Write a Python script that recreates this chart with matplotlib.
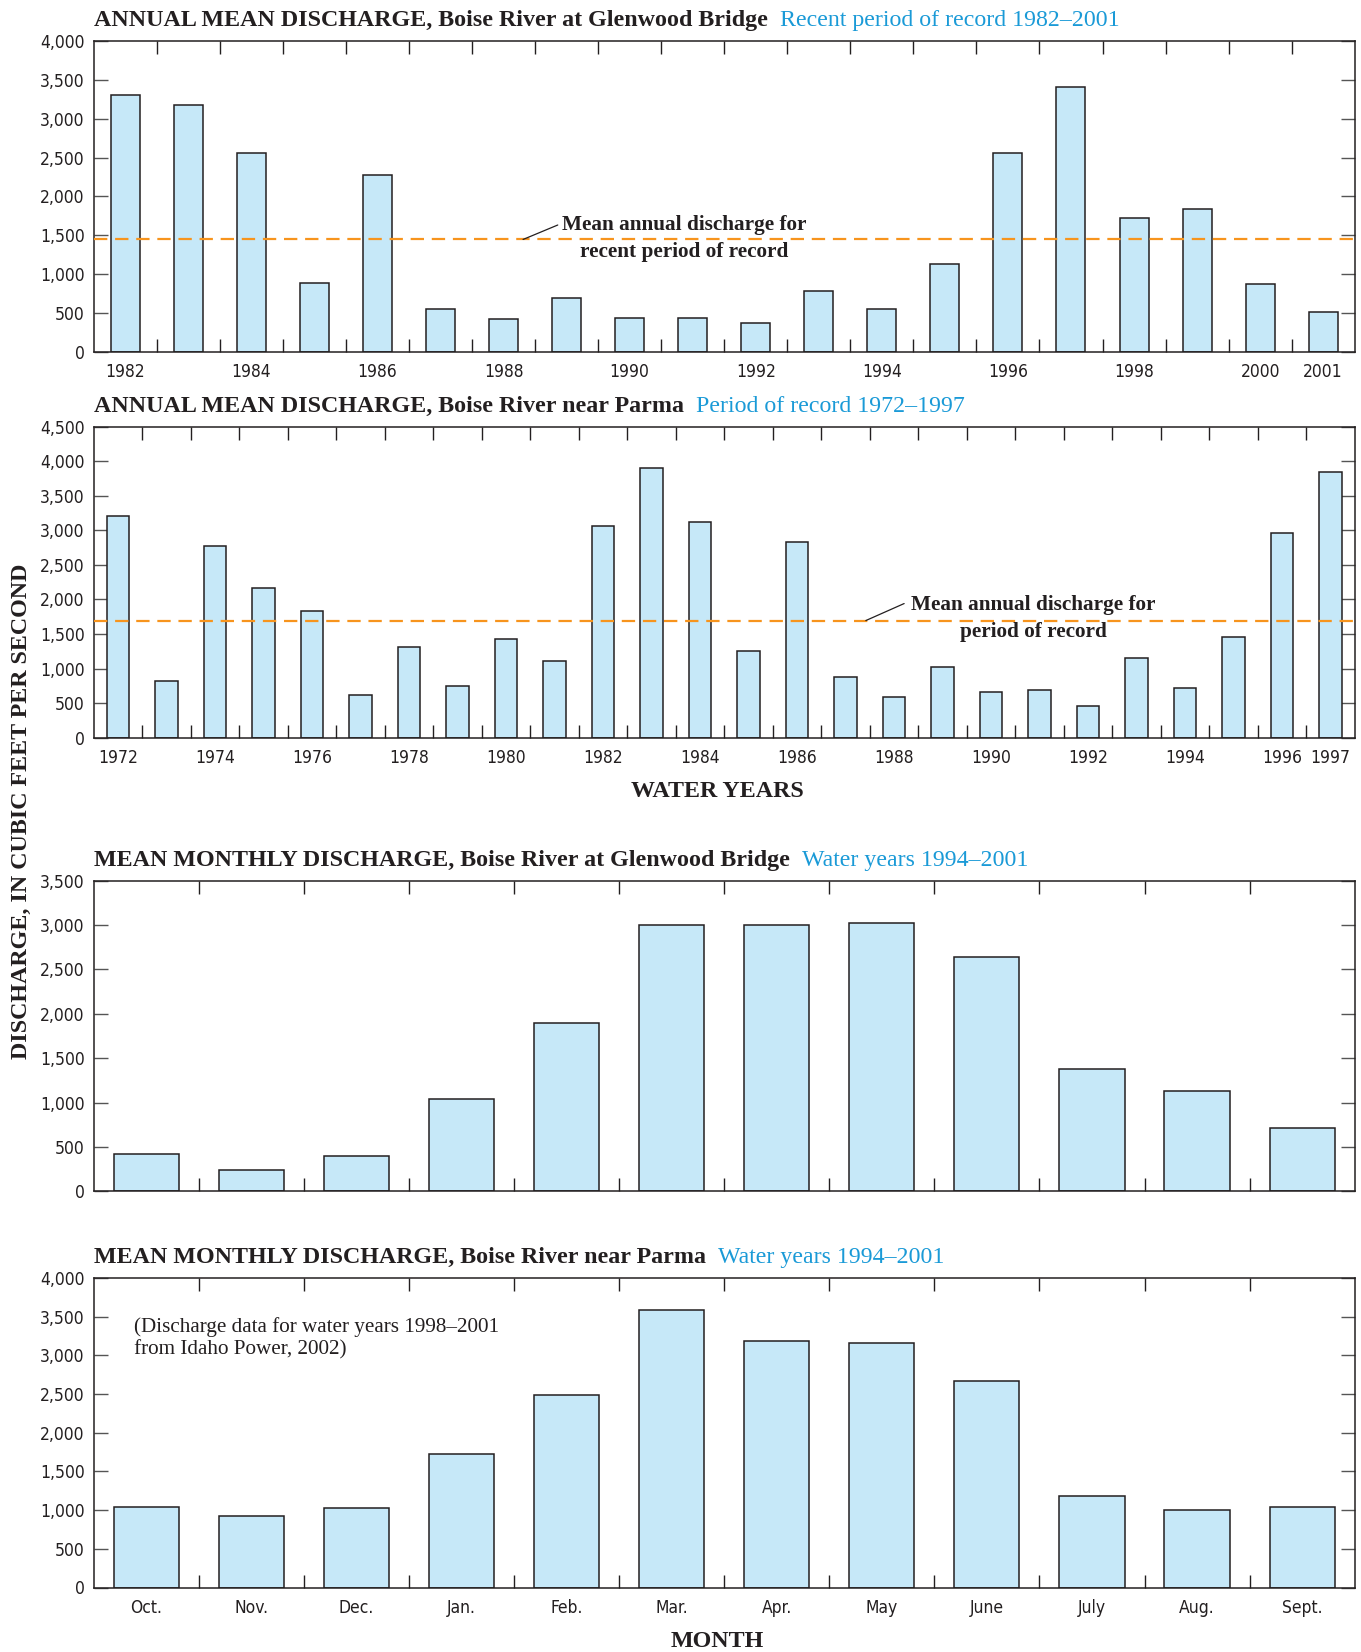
import matplotlib
matplotlib.use("Agg")
import matplotlib.pyplot as plt
from matplotlib import font_manager as fm
from matplotlib.ticker import FuncFormatter, MultipleLocator, FixedLocator
import numpy as np

# ---------------- data ----------------
glen_years = list(range(1982, 2002))
glen_annual = [3300, 3180, 2560, 883, 2275, 545, 424, 695, 428, 428,
               364, 780, 553, 1130, 2560, 3410, 1720, 1840, 870, 506]
glen_mean = 1445
glen_year_labels = [1982, 1984, 1986, 1988, 1990, 1992, 1994, 1996, 1998, 2000, 2001]

parma_years = list(range(1972, 1998))
parma_annual = [3210, 820, 2770, 2165, 1830, 625, 1315, 745, 1430, 1105,
                3070, 3900, 3120, 1255, 2825, 880, 595, 1020, 665, 685,
                465, 1150, 725, 1460, 2960, 3840]
parma_mean = 1695
parma_year_labels = [1972, 1974, 1976, 1978, 1980, 1982, 1984, 1986, 1988,
                     1990, 1992, 1994, 1996, 1997]

months = ["Oct.", "Nov.", "Dec.", "Jan.", "Feb.", "Mar.", "Apr.", "May",
          "June", "July", "Aug.", "Sept."]
glen_monthly = [420, 240, 400, 1035, 1895, 3000, 3000, 3025, 2645, 1378, 1132, 713]
parma_monthly = [1040, 925, 1030, 1730, 2485, 3580, 3190, 3160, 2670, 1180, 1000, 1035]

# ---------------- style ----------------
W, H = 1361, 1652
INK = "#231f20"
BLUE = "#1a9ad7"
FILL = "#c6e8f8"
ORANGE = "#f7941d"
SERIF = ["Liberation Serif", "DejaVu Serif"]

names = {f.name for f in fm.fontManager.ttflist}
if "Liberation Sans Narrow" in names:
    TICKFONT = dict(family="Liberation Sans Narrow")
else:
    TICKFONT = dict(family="DejaVu Sans", stretch="condensed")
TICKSIZE = 12.5

fig = plt.figure(figsize=(W / 100, H / 100), dpi=100)

left = 93.7 / W
width = (1354.7 - 93.7) / W
panels_px = [(41.0, 351.7), (426.7, 737.7), (880.6, 1191.4), (1277.8, 1587.5)]
axes = []
for top, bot in panels_px:
    axes.append(fig.add_axes([left, 1 - bot / H, width, (bot - top) / H]))

fmt = FuncFormatter(lambda v, p: f"{int(v):,}")


def style_axes(ax, ymax, n, centers_labels, label_texts):
    ax.set_xlim(-0.5, n - 0.5)
    ax.set_ylim(0, ymax)
    ax.yaxis.set_major_locator(MultipleLocator(500))
    ax.yaxis.set_major_formatter(fmt)
    ax.xaxis.set_major_locator(FixedLocator(np.arange(0.5, n - 0.5, 1.0)))
    ax.xaxis.set_major_formatter(FuncFormatter(lambda v, p: ""))
    ax.xaxis.set_minor_locator(FixedLocator(centers_labels))
    ax.set_xticklabels(label_texts, minor=True)
    ax.tick_params(axis="x", which="major", direction="in", top=True, bottom=True,
                   length=9.5, width=1.0, color=INK)
    ax.tick_params(axis="x", which="minor", length=0, pad=8, labelsize=TICKSIZE,
                   labelcolor=INK)
    ax.tick_params(axis="y", which="major", direction="in", left=True, right=True,
                   length=10, width=1.0, color="#555555", pad=6.5,
                   labelsize=TICKSIZE, labelcolor=INK)
    for lab in ax.get_xticklabels(minor=True) + ax.get_yticklabels():
        lab.set_fontfamily(TICKFONT["family"])
        if "stretch" in TICKFONT:
            lab.set_fontstretch(TICKFONT["stretch"])
    for s in ax.spines.values():
        s.set_linewidth(1.1)
        s.set_color(INK)


def bars(ax, values, w):
    x = np.arange(len(values))
    ax.bar(x, values, width=w, color=FILL, edgecolor=INK, linewidth=1.1, zorder=2)


# Panel 1
ax = axes[0]
bars(ax, glen_annual, 0.46)
style_axes(ax, 4000, len(glen_years),
           [glen_years.index(y) for y in glen_year_labels],
           [str(y) for y in glen_year_labels])
ax.axhline(glen_mean, color=ORANGE, lw=1.6, dashes=(6, 3.5), zorder=3)
ax.annotate("", xy=(6.31, glen_mean), xytext=(6.86, 1631),
            arrowprops=dict(arrowstyle="-", color=INK, lw=0.9, shrinkA=0, shrinkB=0))
ax.text(8.87, 1462, "Mean annual discharge for\nrecent period of record",
        ha="center", va="center", multialignment="center", linespacing=1.45,
        fontfamily=SERIF, fontweight="bold", fontsize=15.3, color=INK, zorder=4)

# Panel 2
ax = axes[1]
bars(ax, parma_annual, 0.46)
style_axes(ax, 4500, len(parma_years),
           [parma_years.index(y) for y in parma_year_labels],
           [str(y) for y in parma_year_labels])
ax.axhline(parma_mean, color=ORANGE, lw=1.6, dashes=(6, 3.5), zorder=3)
ax.annotate("", xy=(15.42, parma_mean), xytext=(16.21, 1941),
            arrowprops=dict(arrowstyle="-", color=INK, lw=0.9, shrinkA=0, shrinkB=0))
ax.text(18.88, 1728, "Mean annual discharge for\nperiod of record",
        ha="center", va="center", multialignment="center", linespacing=1.45,
        fontfamily=SERIF, fontweight="bold", fontsize=15.3, color=INK, zorder=4)

# Panel 3
ax = axes[2]
bars(ax, glen_monthly, 0.62)
style_axes(ax, 3500, len(months), list(range(len(months))), [""] * len(months))

# Panel 4
ax = axes[3]
bars(ax, parma_monthly, 0.62)
style_axes(ax, 4000, len(months), list(range(len(months))), months)
ax.text(0.0318, 0.874, "(Discharge data for water years 1998\u20132001\nfrom Idaho Power, 2002)",
        transform=ax.transAxes, ha="left", va="top", linespacing=1.25,
        fontfamily=SERIF, fontsize=15.2, color=INK)

# Titles
titles = [
    ("ANNUAL MEAN DISCHARGE, Boise River at Glenwood Bridge", "Recent period of record 1982\u20132001"),
    ("ANNUAL MEAN DISCHARGE, Boise River near Parma", "Period of record 1972\u20131997"),
    ("MEAN MONTHLY DISCHARGE, Boise River at Glenwood Bridge", "Water years 1994\u20132001"),
    ("MEAN MONTHLY DISCHARGE, Boise River near Parma", "Water years 1994\u20132001"),
]
made = []
for (top, bot), (bold, blue) in zip(panels_px, titles):
    y = 1 - (top - 15) / H
    t = fig.text(left, y, bold, fontfamily=SERIF, fontweight="bold", fontsize=17.3,
                 color=INK, ha="left", va="baseline")
    made.append((t, y, blue))

fig.text(717 / W, 1 - 797 / H, "WATER YEARS", fontfamily=SERIF, fontweight="bold",
         fontsize=17.3, color=INK, ha="center", va="baseline")
fig.text(717 / W, 1 - 1647 / H, "MONTH", fontfamily=SERIF, fontweight="bold",
         fontsize=17.3, color=INK, ha="center", va="baseline")
fig.text(21.5 / W, 1 - 811 / H, "DISCHARGE, IN CUBIC FEET PER SECOND", rotation=90,
         fontfamily=SERIF, fontweight="bold", fontsize=17.3, color=INK,
         ha="center", va="center")

fig.canvas.draw()
r = fig.canvas.get_renderer()
for t, y, blue in made:
    bb = t.get_window_extent(r)
    fig.text((bb.x1 + 12) / W, y, blue, fontfamily=SERIF, fontsize=17.2, color=BLUE,
             ha="left", va="baseline")

fig.savefig("out.png", dpi=100, facecolor="white")
